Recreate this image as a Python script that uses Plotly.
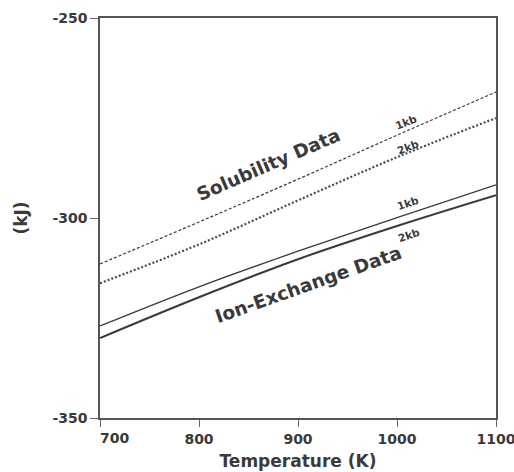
import plotly.graph_objects as go

temperature = [700, 800, 900, 1000, 1100]
sol_1kb = [-311.5, -301.0, -290.3, -279.3, -268.5]
sol_2kb = [-316.3, -306.6, -295.6, -284.8, -275.0]
ion_1kb = [-327.0, -317.2, -308.3, -299.9, -291.7]
ion_2kb = [-330.0, -319.8, -310.3, -302.0, -294.3]

x_ticks = [700, 800, 900, 1000, 1100]
x_ticktext = ["", "800", "900", "1000", "1100"]
y_ticks = [-350, -300, -250]

FONT = "DejaVu Sans"
INK = "#3a3a3a"

fig = go.Figure()
fig.add_trace(go.Scatter(x=temperature, y=sol_1kb, mode="lines",
                         line=dict(color=INK, width=1.2, dash="3px,2px", shape="spline")))
fig.add_trace(go.Scatter(x=temperature, y=sol_2kb, mode="lines",
                         line=dict(color="#4a4a4a", width=2.2, dash="2px,2px", shape="spline")))
fig.add_trace(go.Scatter(x=temperature, y=ion_1kb, mode="lines",
                         line=dict(color=INK, width=1.3, shape="spline")))
fig.add_trace(go.Scatter(x=temperature, y=ion_2kb, mode="lines",
                         line=dict(color=INK, width=2.0, shape="spline")))

bold = lambda s: "<b>" + s + "</b>"

annotations = [
    dict(x=870, y=-286.5, text=bold("Solubility Data"), textangle=-23.5,
         font=dict(family=FONT, size=18.5, color=INK)),
    dict(x=910, y=-316.5, text=bold("Ion-Exchange Data"), textangle=-19.5,
         font=dict(family=FONT, size=18.5, color=INK)),
    dict(x=1009, y=-276.0, text=bold("1kb"), textangle=-21,
         font=dict(family=FONT, size=10.5, color=INK)),
    dict(x=1011, y=-282.3, text=bold("2kb"), textangle=-21,
         font=dict(family=FONT, size=10.5, color=INK)),
    dict(x=1011, y=-296.3, text=bold("1kb"), textangle=-19,
         font=dict(family=FONT, size=10.5, color=INK)),
    dict(x=1012, y=-304.3, text=bold("2kb"), textangle=-19,
         font=dict(family=FONT, size=10.5, color=INK)),
    dict(x=700, y=0, yref="paper", xshift=14, yshift=-20, yanchor="middle", xanchor="center",
         text=bold("700"), font=dict(family=FONT, size=14, color=INK)),
]
for a in annotations:
    a.setdefault("showarrow", False)
    a.setdefault("xref", "x")
    a.setdefault("yref", "y")

fig.update_layout(
    width=514, height=472,
    margin=dict(l=100, r=18, t=18, b=54, autoexpand=False),
    paper_bgcolor="white", plot_bgcolor="white",
    showlegend=False,
    font=dict(family=FONT, color=INK),
    annotations=annotations,
    xaxis=dict(range=[700, 1100], tickvals=x_ticks, ticktext=[bold(t) if t else "" for t in x_ticktext],
               ticks="outside", ticklen=7, tickcolor="#666", tickwidth=1,
               ticklabeloverflow="allow", automargin=False,
               showline=True, linecolor="#555", linewidth=1.5, mirror=True,
               showgrid=False, zeroline=False,
               tickfont=dict(family=FONT, size=14, color=INK),
               title=dict(text=bold("Temperature (K)"), font=dict(family=FONT, size=17, color=INK), standoff=10)),
    yaxis=dict(range=[-350, -250], tickvals=y_ticks, ticktext=[bold(str(v)) for v in y_ticks],
               ticks="outside", ticklen=8, tickcolor="#666", tickwidth=1,
               ticklabeloverflow="allow", automargin=False,
               showline=True, linecolor="#555", linewidth=1.5, mirror=True,
               showgrid=False, zeroline=False,
               tickfont=dict(family=FONT, size=14, color=INK),
               title=dict(text=bold("(kJ)"), font=dict(family=FONT, size=17, color=INK), standoff=20)),
)

fig.write_html("out.html")
